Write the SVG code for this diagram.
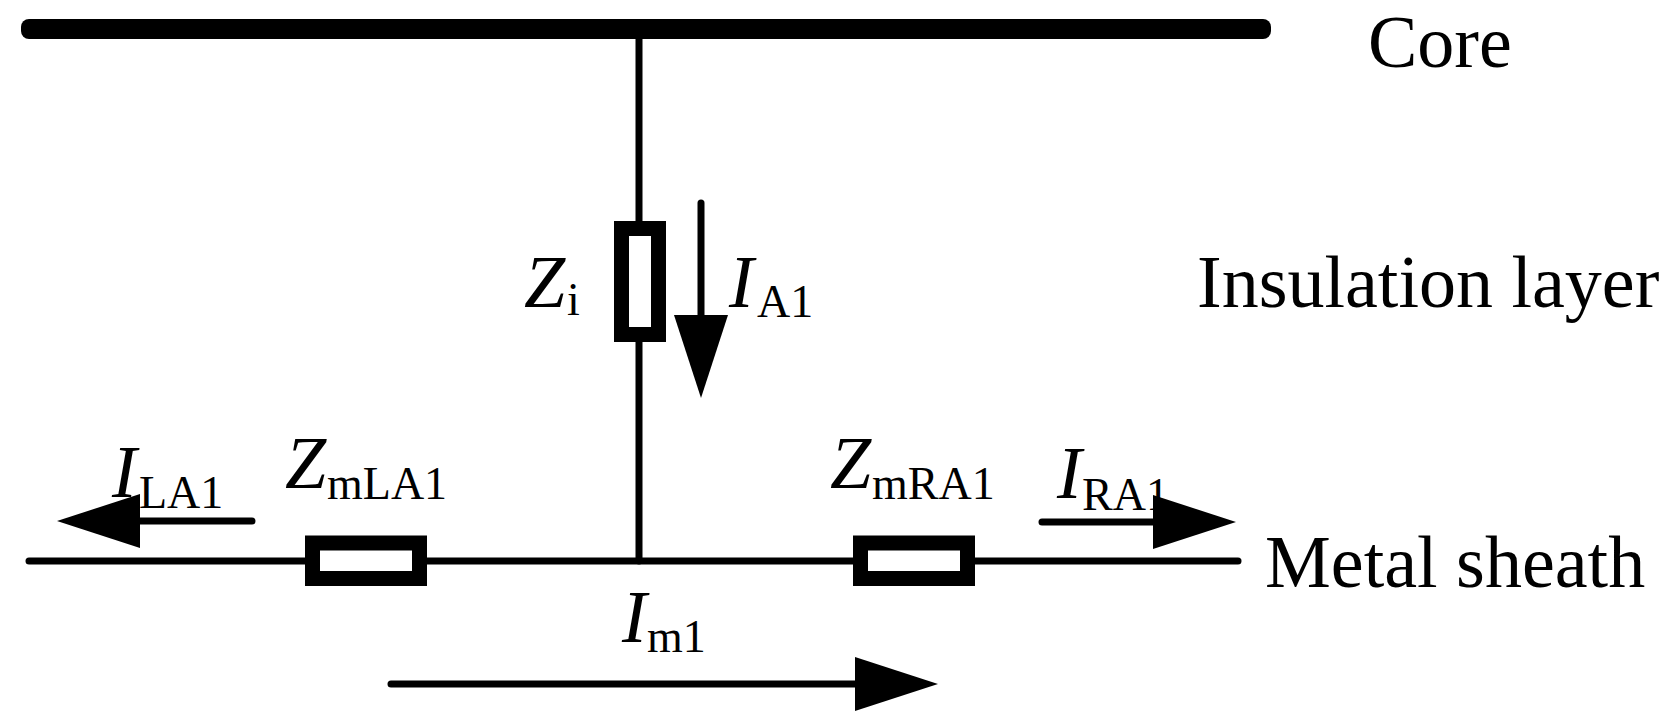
<svg xmlns="http://www.w3.org/2000/svg" width="1678" height="728" viewBox="0 0 1678 728">
  <style>
    .wire { stroke: #000; stroke-width: 7; fill: none; stroke-linecap: round; }
    .res { stroke: #000; stroke-width: 15; fill: #fff; }
    .cur { stroke: #000; stroke-width: 7; fill: none; stroke-linecap: round; marker-end: url(#head); }
    .lbl { font-size: 74px; }
    .sym { font-size: 74px; font-style: italic; }
    .sub { font-size: 46px; font-style: normal; }
  </style>
  <defs>
    <marker id="head" markerUnits="userSpaceOnUse" markerWidth="84" markerHeight="56" refX="0" refY="27" orient="auto" overflow="visible">
      <path d="M0,0 L83,27 L0,54 Z" fill="#000"/>
    </marker>
  </defs>
  <rect width="1678" height="728" fill="#fff"/>

  <g id="connectors">
    <line class="wire" x1="639" y1="39" x2="639" y2="561"/>
    <line class="wire" x1="29" y1="561" x2="1238" y2="561"/>
    <line class="cur" x1="701" y1="203" x2="701" y2="315"/>
    <line class="cur" x1="252" y1="521" x2="140" y2="521"/>
    <line class="cur" x1="1042" y1="522" x2="1153" y2="522"/>
    <line class="cur" x1="391" y1="684" x2="855" y2="684"/>
  </g>

  <g font-family="Liberation Serif, serif" fill="#000">
  <g id="core">
    <rect x="21" y="19" width="1250" height="20" rx="8" fill="#000"/>
    <text class="lbl" x="1368" y="67">Core</text>
  </g>

  <g id="insulation">
    <text class="lbl" x="1197" y="307">Insulation layer</text>
  </g>

  <g id="sheath">
    <text class="lbl" x="1265" y="587">Metal sheath</text>
  </g>

  <g id="Zi">
    <rect class="res" x="621.5" y="228.5" width="37" height="106"/>
    <text class="sym" x="524" y="307">Z<tspan class="sub" x="567" y="315">i</tspan></text>
  </g>

  <g id="ZmLA1">
    <rect class="res" x="312.5" y="543" width="107" height="35.5"/>
    <text class="sym" x="285" y="488">Z<tspan class="sub" x="327" y="499">mLA1</tspan></text>
  </g>

  <g id="ZmRA1">
    <rect class="res" x="860.5" y="543" width="107" height="35.5"/>
    <text class="sym" x="830" y="488">Z<tspan class="sub" x="872" y="499">mRA1</tspan></text>
  </g>

  <g id="IA1">
    <text class="sym" x="729" y="307">I<tspan class="sub" x="757" y="317">A1</tspan></text>
  </g>

  <g id="ILA1">
    <text class="sym" x="112" y="497">I<tspan class="sub" x="139" y="508">LA1</tspan></text>
  </g>

  <g id="IRA1">
    <text class="sym" x="1057" y="498">I<tspan class="sub" x="1082" y="510">RA1</tspan></text>
  </g>

  <g id="Im1">
    <text class="sym" x="622" y="642">I<tspan class="sub" x="647" y="652">m1</tspan></text>
  </g>
  </g>
</svg>
